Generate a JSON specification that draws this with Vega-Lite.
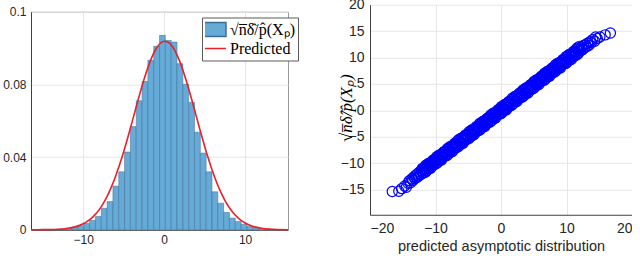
{
  "$schema": "https://vega.github.io/schema/vega-lite/v6.json",
  "background": "white",
  "padding": {"left": 2, "top": -2.5, "right": 0, "bottom": 0},
  "spacing": 45,
  "center": true,
  "config": {
    "font": "Liberation Sans",
    "view": {"stroke": null},
    "axis": {"labelColor": "#262626", "titleColor": "#262626", "domainColor": "#404040", "gridColor": "#e6e6e6", "ticks": false, "labelOverlap": false, "labelFont": "Liberation Sans", "titleFont": "Liberation Sans", "titleFontWeight": "normal"},
    "legend": {
      "orient": "none", "legendX": 171, "legendY": 13,
      "padding": 3, "strokeColor": "#5a5a5a", "fillColor": "white", "cornerRadius": 0,
      "symbolSize": 324, "symbolStrokeWidth": 1.5, "symbolOpacity": 1,
      "labelFont": "Liberation Serif", "labelFontSize": 16, "labelColor": "#000000",
      "labelOffset": 5, "rowPadding": 1, "labelLimit": 300, "clipHeight": 18
    }
  },
  "datasets": {
    "hist": [
      {"x0": -16.41, "x1": -15.69, "y": 0.00003, "s": "\u221an\u0305\u03b4\u0302/p\u0302(X\u209a)"},
      {"x0": -15.69, "x1": -14.97, "y": 0.00005, "s": "\u221an\u0305\u03b4\u0302/p\u0302(X\u209a)"},
      {"x0": -14.97, "x1": -14.25, "y": 0.0001, "s": "\u221an\u0305\u03b4\u0302/p\u0302(X\u209a)"},
      {"x0": -14.25, "x1": -13.53, "y": 0.00015, "s": "\u221an\u0305\u03b4\u0302/p\u0302(X\u209a)"},
      {"x0": -13.53, "x1": -12.81, "y": 0.0003, "s": "\u221an\u0305\u03b4\u0302/p\u0302(X\u209a)"},
      {"x0": -12.81, "x1": -12.09, "y": 0.0005, "s": "\u221an\u0305\u03b4\u0302/p\u0302(X\u209a)"},
      {"x0": -12.09, "x1": -11.37, "y": 0.0009, "s": "\u221an\u0305\u03b4\u0302/p\u0302(X\u209a)"},
      {"x0": -11.37, "x1": -10.65, "y": 0.0014, "s": "\u221an\u0305\u03b4\u0302/p\u0302(X\u209a)"},
      {"x0": -10.65, "x1": -9.93, "y": 0.0022, "s": "\u221an\u0305\u03b4\u0302/p\u0302(X\u209a)"},
      {"x0": -9.93, "x1": -9.21, "y": 0.0035, "s": "\u221an\u0305\u03b4\u0302/p\u0302(X\u209a)"},
      {"x0": -9.21, "x1": -8.49, "y": 0.0052, "s": "\u221an\u0305\u03b4\u0302/p\u0302(X\u209a)"},
      {"x0": -8.49, "x1": -7.77, "y": 0.0073, "s": "\u221an\u0305\u03b4\u0302/p\u0302(X\u209a)"},
      {"x0": -7.77, "x1": -7.05, "y": 0.0118, "s": "\u221an\u0305\u03b4\u0302/p\u0302(X\u209a)"},
      {"x0": -7.05, "x1": -6.33, "y": 0.0155, "s": "\u221an\u0305\u03b4\u0302/p\u0302(X\u209a)"},
      {"x0": -6.33, "x1": -5.61, "y": 0.024, "s": "\u221an\u0305\u03b4\u0302/p\u0302(X\u209a)"},
      {"x0": -5.61, "x1": -4.89, "y": 0.0319, "s": "\u221an\u0305\u03b4\u0302/p\u0302(X\u209a)"},
      {"x0": -4.89, "x1": -4.17, "y": 0.0428, "s": "\u221an\u0305\u03b4\u0302/p\u0302(X\u209a)"},
      {"x0": -4.17, "x1": -3.45, "y": 0.0568, "s": "\u221an\u0305\u03b4\u0302/p\u0302(X\u209a)"},
      {"x0": -3.45, "x1": -2.73, "y": 0.071, "s": "\u221an\u0305\u03b4\u0302/p\u0302(X\u209a)"},
      {"x0": -2.73, "x1": -2.01, "y": 0.0816, "s": "\u221an\u0305\u03b4\u0302/p\u0302(X\u209a)"},
      {"x0": -2.01, "x1": -1.29, "y": 0.0933, "s": "\u221an\u0305\u03b4\u0302/p\u0302(X\u209a)"},
      {"x0": -1.29, "x1": -0.57, "y": 0.101, "s": "\u221an\u0305\u03b4\u0302/p\u0302(X\u209a)"},
      {"x0": -0.57, "x1": 0.15, "y": 0.107, "s": "\u221an\u0305\u03b4\u0302/p\u0302(X\u209a)"},
      {"x0": 0.15, "x1": 0.87, "y": 0.1042, "s": "\u221an\u0305\u03b4\u0302/p\u0302(X\u209a)"},
      {"x0": 0.87, "x1": 1.59, "y": 0.1033, "s": "\u221an\u0305\u03b4\u0302/p\u0302(X\u209a)"},
      {"x0": 1.59, "x1": 2.31, "y": 0.0914, "s": "\u221an\u0305\u03b4\u0302/p\u0302(X\u209a)"},
      {"x0": 2.31, "x1": 3.03, "y": 0.0801, "s": "\u221an\u0305\u03b4\u0302/p\u0302(X\u209a)"},
      {"x0": 3.03, "x1": 3.75, "y": 0.0701, "s": "\u221an\u0305\u03b4\u0302/p\u0302(X\u209a)"},
      {"x0": 3.75, "x1": 4.47, "y": 0.0537, "s": "\u221an\u0305\u03b4\u0302/p\u0302(X\u209a)"},
      {"x0": 4.47, "x1": 5.19, "y": 0.0422, "s": "\u221an\u0305\u03b4\u0302/p\u0302(X\u209a)"},
      {"x0": 5.19, "x1": 5.91, "y": 0.0319, "s": "\u221an\u0305\u03b4\u0302/p\u0302(X\u209a)"},
      {"x0": 5.91, "x1": 6.63, "y": 0.0209, "s": "\u221an\u0305\u03b4\u0302/p\u0302(X\u209a)"},
      {"x0": 6.63, "x1": 7.35, "y": 0.0146, "s": "\u221an\u0305\u03b4\u0302/p\u0302(X\u209a)"},
      {"x0": 7.35, "x1": 8.07, "y": 0.0095, "s": "\u221an\u0305\u03b4\u0302/p\u0302(X\u209a)"},
      {"x0": 8.07, "x1": 8.79, "y": 0.0064, "s": "\u221an\u0305\u03b4\u0302/p\u0302(X\u209a)"},
      {"x0": 8.79, "x1": 9.51, "y": 0.0045, "s": "\u221an\u0305\u03b4\u0302/p\u0302(X\u209a)"},
      {"x0": 9.51, "x1": 10.23, "y": 0.003, "s": "\u221an\u0305\u03b4\u0302/p\u0302(X\u209a)"},
      {"x0": 10.23, "x1": 10.95, "y": 0.0019, "s": "\u221an\u0305\u03b4\u0302/p\u0302(X\u209a)"},
      {"x0": 10.95, "x1": 11.67, "y": 0.0012, "s": "\u221an\u0305\u03b4\u0302/p\u0302(X\u209a)"},
      {"x0": 11.67, "x1": 12.39, "y": 0.0007, "s": "\u221an\u0305\u03b4\u0302/p\u0302(X\u209a)"},
      {"x0": 12.39, "x1": 13.11, "y": 0.0004, "s": "\u221an\u0305\u03b4\u0302/p\u0302(X\u209a)"},
      {"x0": 13.11, "x1": 13.83, "y": 0.0002, "s": "\u221an\u0305\u03b4\u0302/p\u0302(X\u209a)"},
      {"x0": 13.83, "x1": 14.55, "y": 0.0001, "s": "\u221an\u0305\u03b4\u0302/p\u0302(X\u209a)"},
      {"x0": 14.55, "x1": 15.27, "y": 0.00005, "s": "\u221an\u0305\u03b4\u0302/p\u0302(X\u209a)"}
    ],
    "curve": [
      {"x": -16.45, "y": 0.00001, "s": "Predicted"},
      {"x": -15, "y": 0.00005, "s": "Predicted"},
      {"x": -14, "y": 0.00012, "s": "Predicted"},
      {"x": -13, "y": 0.00031, "s": "Predicted"},
      {"x": -12, "y": 0.00073, "s": "Predicted"},
      {"x": -11, "y": 0.00159, "s": "Predicted"},
      {"x": -10, "y": 0.00327, "s": "Predicted"},
      {"x": -9.5, "y": 0.00457, "s": "Predicted"},
      {"x": -9, "y": 0.00627, "s": "Predicted"},
      {"x": -8.5, "y": 0.00846, "s": "Predicted"},
      {"x": -8, "y": 0.01123, "s": "Predicted"},
      {"x": -7.5, "y": 0.01465, "s": "Predicted"},
      {"x": -7, "y": 0.0188, "s": "Predicted"},
      {"x": -6.5, "y": 0.02371, "s": "Predicted"},
      {"x": -6, "y": 0.02941, "s": "Predicted"},
      {"x": -5.5, "y": 0.03585, "s": "Predicted"},
      {"x": -5, "y": 0.04298, "s": "Predicted"},
      {"x": -4.5, "y": 0.05066, "s": "Predicted"},
      {"x": -4, "y": 0.05871, "s": "Predicted"},
      {"x": -3.5, "y": 0.0669, "s": "Predicted"},
      {"x": -3, "y": 0.07493, "s": "Predicted"},
      {"x": -2.5, "y": 0.08254, "s": "Predicted"},
      {"x": -2, "y": 0.08938, "s": "Predicted"},
      {"x": -1.5, "y": 0.09517, "s": "Predicted"},
      {"x": -1, "y": 0.09963, "s": "Predicted"},
      {"x": -0.5, "y": 0.10254, "s": "Predicted"},
      {"x": 0, "y": 0.10376, "s": "Predicted"},
      {"x": 0.5, "y": 0.10324, "s": "Predicted"},
      {"x": 1, "y": 0.10098, "s": "Predicted"},
      {"x": 1.5, "y": 0.09713, "s": "Predicted"},
      {"x": 2, "y": 0.09184, "s": "Predicted"},
      {"x": 2.5, "y": 0.08538, "s": "Predicted"},
      {"x": 3, "y": 0.07806, "s": "Predicted"},
      {"x": 3.5, "y": 0.07015, "s": "Predicted"},
      {"x": 4, "y": 0.06199, "s": "Predicted"},
      {"x": 4.5, "y": 0.05385, "s": "Predicted"},
      {"x": 5, "y": 0.04599, "s": "Predicted"},
      {"x": 5.5, "y": 0.03862, "s": "Predicted"},
      {"x": 6, "y": 0.0319, "s": "Predicted"},
      {"x": 6.5, "y": 0.0259, "s": "Predicted"},
      {"x": 7, "y": 0.02067, "s": "Predicted"},
      {"x": 7.5, "y": 0.01622, "s": "Predicted"},
      {"x": 8, "y": 0.01252, "s": "Predicted"},
      {"x": 8.5, "y": 0.00949, "s": "Predicted"},
      {"x": 9, "y": 0.00708, "s": "Predicted"},
      {"x": 9.5, "y": 0.0052, "s": "Predicted"},
      {"x": 10, "y": 0.00375, "s": "Predicted"},
      {"x": 11, "y": 0.00185, "s": "Predicted"},
      {"x": 12, "y": 0.00085, "s": "Predicted"},
      {"x": 13, "y": 0.00037, "s": "Predicted"},
      {"x": 14, "y": 0.00015, "s": "Predicted"},
      {"x": 15.3, "y": 0.00004, "s": "Predicted"}
    ],
    "pts": [
      {"x": -16.6, "y": -15.35}, {"x": -15.6, "y": -15.3}, {"x": -15.15, "y": -14.8}, {"x": -14.7, "y": -14.3},
      {"x": -14.45, "y": -14.55}, {"x": -14.2, "y": -13.8}, {"x": -14.0, "y": -13.3}, {"x": -13.8, "y": -13.7},
      {"x": -13.6, "y": -12.95}, {"x": -13.45, "y": -13.25}, {"x": -13.3, "y": -12.6}, {"x": -13.15, "y": -12.95},
      {"x": -13.0, "y": -12.25}, {"x": -12.85, "y": -12.7}, {"x": -12.7, "y": -11.95}, {"x": -12.55, "y": -12.4},
      {"x": -12.4, "y": -11.6}, {"x": -12.25, "y": -12.1}, {"x": -12.15, "y": -11.4},
      {"x": -12.0, "y": -10.97}, {"x": -11.85, "y": -11.73}, {"x": -11.7, "y": -11.08}, {"x": -11.55, "y": -11.69},
      {"x": -11.4, "y": -10.54}, {"x": -11.25, "y": -10.9}, {"x": -11.1, "y": -10.06}, {"x": -10.95, "y": -11.01},
      {"x": -10.8, "y": -10.12}, {"x": -10.65, "y": -10.47}, {"x": -10.5, "y": -10.08}, {"x": -10.35, "y": -9.39},
      {"x": -10.2, "y": -10.14}, {"x": -10.05, "y": -9.5}, {"x": -9.9, "y": -10.1}, {"x": -9.75, "y": -8.96},
      {"x": -9.6, "y": -9.32}, {"x": -9.45, "y": -8.47}, {"x": -9.3, "y": -9.43}, {"x": -9.15, "y": -8.53},
      {"x": -9.0, "y": -8.89}, {"x": -8.85, "y": -8.5}, {"x": -8.7, "y": -7.8}, {"x": -8.55, "y": -8.56},
      {"x": -8.4, "y": -7.91}, {"x": -8.25, "y": -8.52}, {"x": -8.1, "y": -7.38}, {"x": -7.95, "y": -7.73},
      {"x": -7.8, "y": -6.89}, {"x": -7.65, "y": -7.84}, {"x": -7.5, "y": -6.95}, {"x": -7.35, "y": -7.31},
      {"x": -7.2, "y": -6.91}, {"x": -7.05, "y": -6.22}, {"x": -6.9, "y": -6.97}, {"x": -6.75, "y": -6.33},
      {"x": -6.6, "y": -6.94}, {"x": -6.45, "y": -5.79}, {"x": -6.3, "y": -6.15}, {"x": -6.15, "y": -5.3},
      {"x": -6.0, "y": -6.26}, {"x": -5.85, "y": -5.37}, {"x": -5.7, "y": -5.72}, {"x": -5.55, "y": -5.33},
      {"x": -5.4, "y": -4.63}, {"x": -5.25, "y": -5.39}, {"x": -5.1, "y": -4.75}, {"x": -4.95, "y": -5.35},
      {"x": -4.8, "y": -4.21}, {"x": -4.65, "y": -4.56}, {"x": -4.5, "y": -3.72}, {"x": -4.35, "y": -4.68},
      {"x": -4.2, "y": -3.78}, {"x": -4.05, "y": -4.14}, {"x": -3.9, "y": -3.74}, {"x": -3.75, "y": -3.05},
      {"x": -3.6, "y": -3.81}, {"x": -3.45, "y": -3.16}, {"x": -3.3, "y": -3.77}, {"x": -3.15, "y": -2.62},
      {"x": -3.0, "y": -2.98}, {"x": -2.85, "y": -2.14}, {"x": -2.7, "y": -3.09}, {"x": -2.55, "y": -2.2},
      {"x": -2.4, "y": -2.55}, {"x": -2.25, "y": -2.16}, {"x": -2.1, "y": -1.47}, {"x": -1.95, "y": -2.22},
      {"x": -1.8, "y": -1.58}, {"x": -1.65, "y": -2.18}, {"x": -1.5, "y": -1.04}, {"x": -1.35, "y": -1.4},
      {"x": -1.2, "y": -0.55}, {"x": -1.05, "y": -1.51}, {"x": -0.9, "y": -0.61}, {"x": -0.75, "y": -0.97},
      {"x": -0.6, "y": -0.58}, {"x": -0.45, "y": 0.12}, {"x": -0.3, "y": -0.64}, {"x": -0.15, "y": 0.01},
      {"x": 0.0, "y": -0.6}, {"x": 0.15, "y": 0.54}, {"x": 0.3, "y": 0.19}, {"x": 0.45, "y": 1.03},
      {"x": 0.6, "y": 0.08}, {"x": 0.75, "y": 0.97}, {"x": 0.9, "y": 0.61}, {"x": 1.05, "y": 1.01},
      {"x": 1.2, "y": 1.7}, {"x": 1.35, "y": 0.95}, {"x": 1.5, "y": 1.59}, {"x": 1.65, "y": 0.98},
      {"x": 1.8, "y": 2.13}, {"x": 1.95, "y": 1.77}, {"x": 2.1, "y": 2.62}, {"x": 2.25, "y": 1.66},
      {"x": 2.4, "y": 2.55}, {"x": 2.55, "y": 2.2}, {"x": 2.7, "y": 2.59}, {"x": 2.85, "y": 3.29},
      {"x": 3.0, "y": 2.53}, {"x": 3.15, "y": 3.17}, {"x": 3.3, "y": 2.57}, {"x": 3.45, "y": 3.71},
      {"x": 3.6, "y": 3.36}, {"x": 3.75, "y": 4.2}, {"x": 3.9, "y": 3.24}, {"x": 4.05, "y": 4.14},
      {"x": 4.2, "y": 3.78}, {"x": 4.35, "y": 4.18}, {"x": 4.5, "y": 4.87}, {"x": 4.65, "y": 4.11},
      {"x": 4.8, "y": 4.76}, {"x": 4.95, "y": 4.15}, {"x": 5.1, "y": 5.3}, {"x": 5.25, "y": 4.94},
      {"x": 5.4, "y": 5.78}, {"x": 5.55, "y": 4.83}, {"x": 5.7, "y": 5.72}, {"x": 5.85, "y": 5.37},
      {"x": 6.0, "y": 5.76}, {"x": 6.15, "y": 6.45}, {"x": 6.3, "y": 5.7}, {"x": 6.45, "y": 6.34},
      {"x": 6.6, "y": 5.74}, {"x": 6.75, "y": 6.88}, {"x": 6.9, "y": 6.52}, {"x": 7.05, "y": 7.37},
      {"x": 7.2, "y": 6.41}, {"x": 7.35, "y": 7.31}, {"x": 7.5, "y": 6.95}, {"x": 7.65, "y": 7.34},
      {"x": 7.8, "y": 8.04}, {"x": 7.95, "y": 7.28}, {"x": 8.1, "y": 7.93}, {"x": 8.25, "y": 7.32},
      {"x": 8.4, "y": 8.46}, {"x": 8.55, "y": 8.11}, {"x": 8.7, "y": 8.95}, {"x": 8.85, "y": 8.0},
      {"x": 9.0, "y": 8.89}, {"x": 9.15, "y": 8.53}, {"x": 9.3, "y": 8.93}, {"x": 9.45, "y": 9.62},
      {"x": 9.6, "y": 8.87}, {"x": 9.75, "y": 9.51}, {"x": 9.9, "y": 8.9}, {"x": 10.05, "y": 10.05},
      {"x": 10.2, "y": 9.69}, {"x": 10.35, "y": 10.54}, {"x": 10.5, "y": 9.58}, {"x": 10.65, "y": 10.47},
      {"x": 10.8, "y": 10.12}, {"x": 10.95, "y": 10.51}, {"x": 11.1, "y": 11.21}, {"x": 11.25, "y": 10.45},
      {"x": 11.4, "y": 11.09}, {"x": 11.55, "y": 10.49}, {"x": 11.7, "y": 11.63}, {"x": 11.85, "y": 11.28},
      {"x": 12.0, "y": 12.12},
      {"x": -11.925, "y": -11.9}, {"x": -11.775, "y": -11.0}, {"x": -11.625, "y": -11.31}, {"x": -11.475, "y": -10.37},
      {"x": -11.325, "y": -11.42}, {"x": -11.175, "y": -10.68}, {"x": -11.025, "y": -10.88}, {"x": -10.875, "y": -9.94},
      {"x": -10.725, "y": -10.95}, {"x": -10.575, "y": -9.95}, {"x": -10.425, "y": -9.56}, {"x": -10.275, "y": -10.31},
      {"x": -10.125, "y": -9.42}, {"x": -9.975, "y": -9.73}, {"x": -9.825, "y": -8.78}, {"x": -9.675, "y": -9.84},
      {"x": -9.525, "y": -9.09}, {"x": -9.375, "y": -9.3}, {"x": -9.225, "y": -8.36}, {"x": -9.075, "y": -9.36},
      {"x": -8.925, "y": -8.37}, {"x": -8.775, "y": -7.97}, {"x": -8.625, "y": -8.73}, {"x": -8.475, "y": -7.84},
      {"x": -8.325, "y": -8.14}, {"x": -8.175, "y": -7.2}, {"x": -8.025, "y": -8.25}, {"x": -7.875, "y": -7.51},
      {"x": -7.725, "y": -7.72}, {"x": -7.575, "y": -6.77}, {"x": -7.425, "y": -7.78}, {"x": -7.275, "y": -6.78},
      {"x": -7.125, "y": -6.39}, {"x": -6.975, "y": -7.15}, {"x": -6.825, "y": -6.25}, {"x": -6.675, "y": -6.56},
      {"x": -6.525, "y": -5.61}, {"x": -6.375, "y": -6.67}, {"x": -6.225, "y": -5.93}, {"x": -6.075, "y": -6.13},
      {"x": -5.925, "y": -5.19}, {"x": -5.775, "y": -6.19}, {"x": -5.625, "y": -5.2}, {"x": -5.475, "y": -4.81},
      {"x": -5.325, "y": -5.56}, {"x": -5.175, "y": -4.67}, {"x": -5.025, "y": -4.97}, {"x": -4.875, "y": -4.03},
      {"x": -4.725, "y": -5.09}, {"x": -4.575, "y": -4.34}, {"x": -4.425, "y": -4.55}, {"x": -4.275, "y": -3.6},
      {"x": -4.125, "y": -4.61}, {"x": -3.975, "y": -3.62}, {"x": -3.825, "y": -3.22}, {"x": -3.675, "y": -3.98},
      {"x": -3.525, "y": -3.08}, {"x": -3.375, "y": -3.39}, {"x": -3.225, "y": -2.45}, {"x": -3.075, "y": -3.5},
      {"x": -2.925, "y": -2.76}, {"x": -2.775, "y": -2.96}, {"x": -2.625, "y": -2.02}, {"x": -2.475, "y": -3.03},
      {"x": -2.325, "y": -2.03}, {"x": -2.175, "y": -1.64}, {"x": -2.025, "y": -2.39}, {"x": -1.875, "y": -1.5},
      {"x": -1.725, "y": -1.81}, {"x": -1.575, "y": -0.86}, {"x": -1.425, "y": -1.92}, {"x": -1.275, "y": -1.17},
      {"x": -1.125, "y": -1.38}, {"x": -0.975, "y": -0.44}, {"x": -0.825, "y": -1.44}, {"x": -0.675, "y": -0.45},
      {"x": -0.525, "y": -0.05}, {"x": -0.375, "y": -0.81}, {"x": -0.225, "y": 0.08}, {"x": -0.075, "y": -0.22},
      {"x": 0.075, "y": 0.72}, {"x": 0.225, "y": -0.33}, {"x": 0.375, "y": 0.41}, {"x": 0.525, "y": 0.2},
      {"x": 0.675, "y": 1.15}, {"x": 0.825, "y": 0.14}, {"x": 0.975, "y": 1.14}, {"x": 1.125, "y": 1.53},
      {"x": 1.275, "y": 0.77}, {"x": 1.425, "y": 1.67}, {"x": 1.575, "y": 1.36}, {"x": 1.725, "y": 2.31},
      {"x": 1.875, "y": 1.25}, {"x": 2.025, "y": 1.99}, {"x": 2.175, "y": 1.79}, {"x": 2.325, "y": 2.73},
      {"x": 2.475, "y": 1.73}, {"x": 2.625, "y": 2.72}, {"x": 2.775, "y": 3.11}, {"x": 2.925, "y": 2.36},
      {"x": 3.075, "y": 3.25}, {"x": 3.225, "y": 2.95}, {"x": 3.375, "y": 3.89}, {"x": 3.525, "y": 2.83},
      {"x": 3.675, "y": 3.58}, {"x": 3.825, "y": 3.37}, {"x": 3.975, "y": 4.32}, {"x": 4.125, "y": 3.31},
      {"x": 4.275, "y": 4.3}, {"x": 4.425, "y": 4.7}, {"x": 4.575, "y": 3.94}, {"x": 4.725, "y": 4.84},
      {"x": 4.875, "y": 4.53}, {"x": 5.025, "y": 5.47}, {"x": 5.175, "y": 4.42}, {"x": 5.325, "y": 5.16},
      {"x": 5.475, "y": 4.96}, {"x": 5.625, "y": 5.9}, {"x": 5.775, "y": 4.89}, {"x": 5.925, "y": 5.89},
      {"x": 6.075, "y": 6.28}, {"x": 6.225, "y": 5.53}, {"x": 6.375, "y": 6.42}, {"x": 6.525, "y": 6.11},
      {"x": 6.675, "y": 7.06}, {"x": 6.825, "y": 6.0}, {"x": 6.975, "y": 6.75}, {"x": 7.125, "y": 6.54},
      {"x": 7.275, "y": 7.48}, {"x": 7.425, "y": 6.48}, {"x": 7.575, "y": 7.47}, {"x": 7.725, "y": 7.87},
      {"x": 7.875, "y": 7.11}, {"x": 8.025, "y": 8.0}, {"x": 8.175, "y": 7.7}, {"x": 8.325, "y": 8.64},
      {"x": 8.475, "y": 7.59}, {"x": 8.625, "y": 8.33}, {"x": 8.775, "y": 8.12}, {"x": 8.925, "y": 9.07},
      {"x": 9.075, "y": 8.06}, {"x": 9.225, "y": 9.06}, {"x": 9.375, "y": 9.45}, {"x": 9.525, "y": 8.69},
      {"x": 9.675, "y": 9.59}, {"x": 9.825, "y": 9.28}, {"x": 9.975, "y": 10.23}, {"x": 10.125, "y": 9.17},
      {"x": 10.275, "y": 9.91}, {"x": 10.425, "y": 9.71}, {"x": 10.575, "y": 10.65}, {"x": 10.725, "y": 9.65},
      {"x": 10.875, "y": 10.64}, {"x": 11.025, "y": 11.03}, {"x": 11.175, "y": 10.28}, {"x": 11.325, "y": 11.17},
      {"x": 11.475, "y": 10.87}, {"x": 11.625, "y": 11.81}, {"x": 11.775, "y": 10.75}, {"x": 11.925, "y": 11.5},
      {"x": 12.15, "y": 11.3}, {"x": 12.3, "y": 12.0}, {"x": 12.45, "y": 11.5}, {"x": 12.6, "y": 12.3},
      {"x": 12.75, "y": 11.85}, {"x": 12.9, "y": 12.45}, {"x": 13.05, "y": 12.05}, {"x": 13.2, "y": 12.7},
      {"x": 13.4, "y": 12.3}, {"x": 13.6, "y": 13.0}, {"x": 13.8, "y": 12.8}, {"x": 14.0, "y": 13.4},
      {"x": 14.3, "y": 13.1}, {"x": 14.45, "y": 13.9}, {"x": 14.7, "y": 13.6}, {"x": 15.1, "y": 13.9},
      {"x": 15.9, "y": 14.3}, {"x": 16.7, "y": 14.65}
    ]
  },
  "hconcat": [
    {
      "width": 257,
      "height": 218,
      "view": {"stroke": "#9a9a9a"},
      "layer": [
        {
          "data": {"name": "hist"},
          "mark": {"type": "bar", "strokeWidth": 0.5},
          "encoding": {
            "x": {"field": "x0", "type": "quantitative", "scale": {"domain": [-16.45, 15.3], "nice": false, "zero": false},
                  "axis": {"values": [-10, 0, 10], "title": null, "grid": true, "labelFontSize": 12, "labelPadding": 5, "labelOverlap": false}},
            "x2": {"field": "x1"},
            "y": {"field": "y", "type": "quantitative", "scale": {"domain": [0, 0.12], "nice": false},
                  "axis": {"values": [0, 0.02, 0.04, 0.06, 0.08, 0.1, 0.12], "format": "~g", "title": null, "grid": true, "labelFontSize": 12, "labelPadding": 5, "labelOverlap": false, "labelBound": false}},
            "y2": {"datum": 0},
            "fill": {
              "field": "s", "type": "nominal",
              "scale": {"domain": ["\u221an\u0305\u03b4\u0302/p\u0302(X\u209a)", "Predicted"], "range": ["#66AAD7", "transparent"]},
              "legend": {"title": null}
            },
            "stroke": {
              "field": "s", "type": "nominal",
              "scale": {"domain": ["\u221an\u0305\u03b4\u0302/p\u0302(X\u209a)", "Predicted"], "range": ["#3d6d94", "#e8202a"]},
              "legend": {"title": null}
            }
          }
        },
        {
          "data": {"name": "curve"},
          "mark": {"type": "line", "strokeWidth": 1.6, "interpolate": "monotone"},
          "encoding": {
            "x": {"field": "x", "type": "quantitative"},
            "y": {"field": "y", "type": "quantitative"},
            "stroke": {"field": "s", "type": "nominal", "legend": {"title": null}}
          }
        },
        {
          "data": {"name": "curve"},
          "mark": {"type": "point", "size": 0, "opacity": 0},
          "encoding": {
            "x": {"field": "x", "type": "quantitative"},
            "y": {"field": "y", "type": "quantitative"},
            "shape": {
              "field": "s", "type": "nominal",
              "scale": {"domain": ["\u221an\u0305\u03b4\u0302/p\u0302(X\u209a)", "Predicted"], "range": ["M-1.22,-0.78H1.22V0.78H-1.22Z", "M-1.22,0H1.22"]},
              "legend": {"title": null}
            }
          }
        }
      ]
    },
    {
      "width": 262,
      "height": 210,
      "data": {"name": "pts"},
      "mark": {"type": "point", "shape": "circle", "filled": false, "size": 105, "strokeWidth": 1.2, "color": "#0000ff", "opacity": 1},
      "encoding": {
        "x": {"field": "x", "type": "quantitative", "scale": {"domain": [-20, 20], "nice": false},
              "axis": {"values": [-20, -10, 0, 10, 20], "title": "predicted asymptotic distribution", "titleFontSize": 14.5,
                       "labelFontSize": 14, "labelPadding": 7, "titlePadding": 4, "grid": true}},
        "y": {"field": "y", "type": "quantitative", "scale": {"domain": [-19.75, 20], "nice": false},
              "axis": {"values": [-15, -10, -5, 0, 5, 10, 15, 20], "title": "\u221an\u0305\u03b4\u0302/p\u0302(X\u209a)",
                       "titleFont": "Liberation Serif", "titleFontStyle": "italic", "titleFontSize": 17, "titleColor": "#000000",
                       "labelFontSize": 14, "labelPadding": 6, "titleX": -24, "titleY": 103, "titleAngle": -90,
                       "titleAlign": "center", "titleBaseline": "middle", "grid": true}}
      }
    }
  ]
}
